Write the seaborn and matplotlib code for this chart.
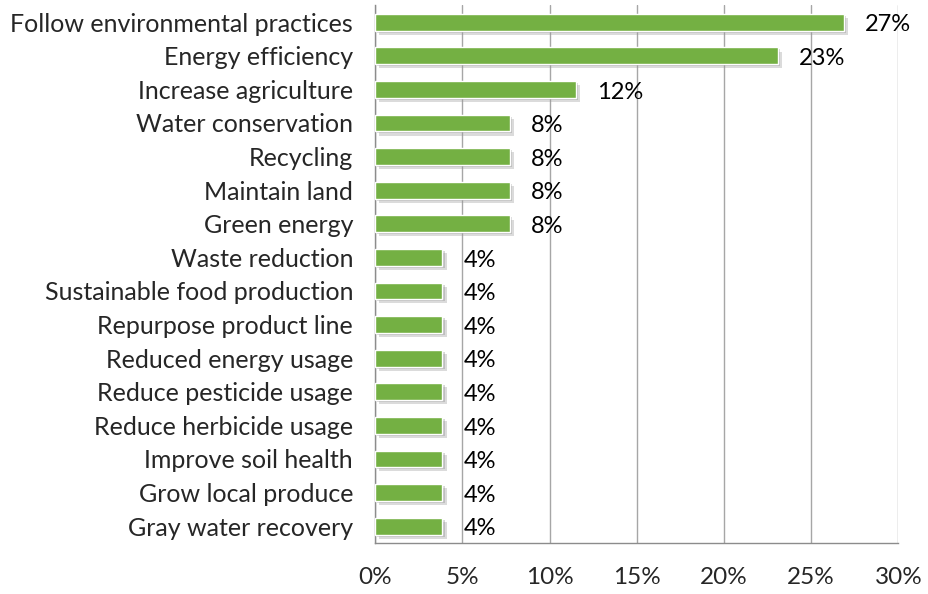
import matplotlib
matplotlib.use("Agg")
import matplotlib.pyplot as plt
import matplotlib.patheffects as pe
import seaborn as sns
import pandas as pd
from matplotlib.ticker import MultipleLocator, FuncFormatter

# data (share of responses, shown rounded)
practices = [
    "Follow environmental practices", "Energy efficiency", "Increase agriculture",
    "Water conservation", "Recycling", "Maintain land", "Green energy",
    "Waste reduction", "Sustainable food production", "Repurpose product line",
    "Reduced energy usage", "Reduce pesticide usage", "Reduce herbicide usage",
    "Improve soil health", "Grow local produce", "Gray water recovery",
]
shares = [26.9, 23.1, 11.5, 7.7, 7.7, 7.7, 7.7,
          3.85, 3.85, 3.85, 3.85, 3.85, 3.85, 3.85, 3.85, 3.85]

df = pd.DataFrame({"practice": practices, "share": shares})

sns.set_style("white")
plt.rcParams["font.family"] = ["Lato", "DejaVu Sans"]

fig = plt.figure(figsize=(9.29, 5.94), dpi=100)
ax = fig.add_axes([0.404, 0.086, 0.563, 0.905])

sns.barplot(data=df, y="practice", x="share", orient="h",
            color="#74b043", saturation=1, width=0.5, ax=ax, zorder=3)

for bar in ax.patches:
    bar.set_path_effects([
        pe.SimplePatchShadow(offset=(3, -3), shadow_rgbFace="#9a9a9a", alpha=0.35),
        pe.SimplePatchShadow(offset=(1.5, -1.5), shadow_rgbFace="#8a8a8a", alpha=0.35),
        pe.Normal(),
    ])

texts = ax.bar_label(ax.containers[0], labels=[f"{round(v)}%" for v in shares],
                     padding=15, fontsize=17, color="black")
# nudge value labels slightly down
for t in texts:
    x_off, y_off = t.xyann
    t.xyann = (x_off, y_off - 2)

ax.set_xlim(0, 30)
ax.set_ylim(15.5, -0.5)
ax.xaxis.set_major_locator(MultipleLocator(5))
ax.xaxis.set_major_formatter(FuncFormatter(lambda v, p: f"{v:.0f}%"))
ax.grid(axis="x", color="#a6a6a6", linewidth=1, zorder=0)
ax.set_axisbelow(True)

# category boundary ticks on the y axis, labels centred on bars
ax.set_yticks([i - 0.5 for i in range(17)], minor=False)
ax.set_yticklabels([""] * 17)
ax.set_yticks(range(16), minor=True)
ax.set_yticklabels(practices, minor=True)
ax.tick_params(axis="y", which="major", length=7, color="#8c8c8c", width=1)
ax.tick_params(axis="y", which="minor", length=0, labelsize=18, pad=16)
ax.tick_params(axis="x", length=7, color="#8c8c8c", width=1, labelsize=17.5, pad=10)

ax.set_xlabel("")
ax.set_ylabel("")
for s in ["top", "right"]:
    ax.spines[s].set_visible(False)
for s in ["left", "bottom"]:
    ax.spines[s].set_color("#8c8c8c")
    ax.spines[s].set_linewidth(1)

fig.savefig("out.png", dpi=100)
